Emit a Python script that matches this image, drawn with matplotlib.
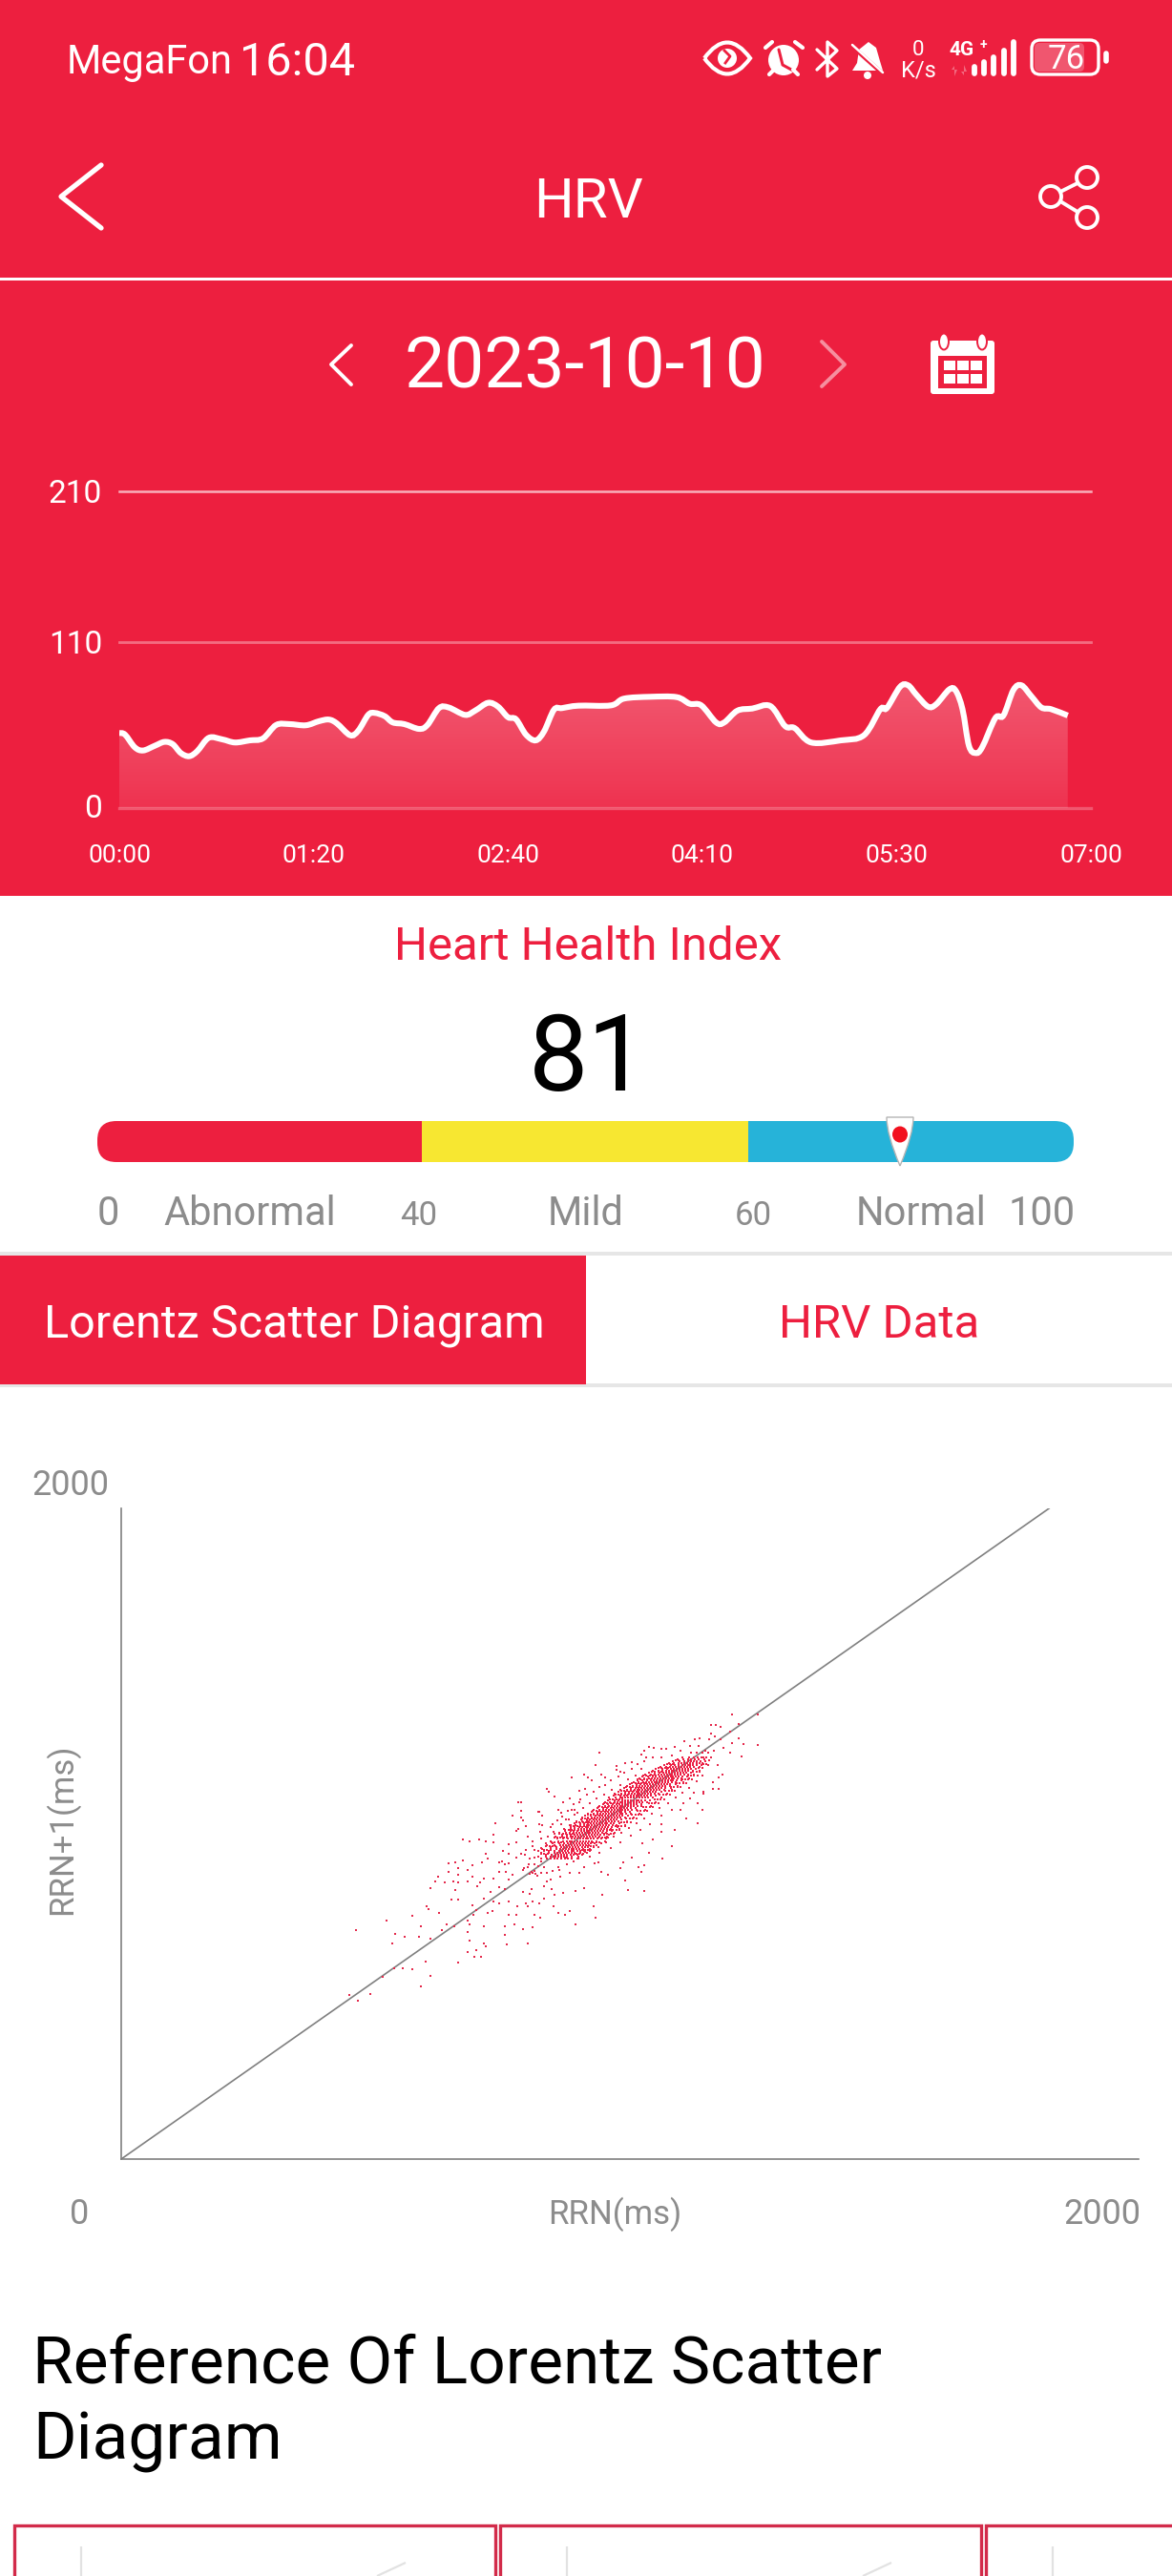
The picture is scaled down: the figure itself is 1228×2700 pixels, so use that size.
import numpy as np
import matplotlib
matplotlib.use("Agg")
import matplotlib.pyplot as plt
from matplotlib.patches import Circle, Ellipse, FancyBboxPatch, PathPatch, Polygon, Rectangle
from matplotlib.path import Path

RED = "#ED1F3F"
GREY = "#8C8C8C"
W, H = 1228, 2700

plt.rcParams["font.family"] = ["Roboto", "DejaVu Sans"]

# HRV curve, minutes from midnight and value
HRV_T = [0, 2.5, 6.7, 10.3, 15.3, 19.5, 23.1, 26.6, 30.2, 33.7, 38.7, 44.4, 50, 56.4, 62.1, 67.8,
         73.5, 80.6, 86.3, 90.6, 94.1, 99.8, 103.3, 107.6, 110.4, 114.7, 118.2, 123.2, 129.6,
         133.2, 138.2, 142.4, 149.5, 153.8, 159.4, 163.7, 168, 171.5, 175.8, 180, 183.6, 187.9,
         191.4, 198.5, 212.5, 218.2, 229.5, 240.9, 246.6, 251.6, 258, 261.5, 267.2, 273.6, 281.4,
         287.8, 292, 299.1, 311.9, 321.9, 329, 331.8, 337.5, 341, 344.6, 349.6, 353.1, 358.8,
         361.6, 364.5, 367.3, 370.2, 373, 378.7, 382.2, 386.5, 390, 394.3, 398.6, 402.8, 410]
HRV_V = [49.8, 48.7, 40.3, 38.2, 41.3, 43.9, 42.4, 36.5, 34.4, 37.8, 46.6, 45.6, 43.5, 44.9, 46.2, 55.1,
         55.7, 54.9, 57.6, 58.7, 56.1, 48.3, 51.3, 61.8, 63.1, 61, 56.8, 55.7, 52.5,
         55.1, 66.3, 66.7, 61.8, 64.6, 69.8, 67.3, 60.3, 58.9, 48.7, 44.9, 50.8, 65.2,
         66.3, 67.9, 68.1, 72.6, 73.8, 73.6, 69.2, 68.1, 56.8, 56.8, 64.6, 66, 67.7,
         54.4, 53, 43.5, 44.9, 48.3, 65.6, 66.3, 80.4, 81.4, 75.1, 67.3, 68.8, 78.7,
         77.8, 65.6, 41.3, 36.5, 40.3, 59.7, 61.4, 78.3, 81.4, 74.1, 66.7, 65.6, 61.4]
HRV_YTICKS = [0, 110, 210]
HRV_XTICKS = [0, 84, 168, 252, 336, 420]
HRV_XLABELS = ["00:00", "01:20", "02:40", "04:10", "05:30", "07:00"]

# index bar
BAR_COLORS = ["#ED1F3F", "#F7E731", "#26B3D9"]
BAR_LABELS = [("0", 113), ("Abnormal", 262), ("Mild", 614), ("Normal", 965), ("100", 1092)]
BAR_SMALL_LABELS = [("40", 439), ("60", 789)]

# Lorentz scatter: isolated points, RR(n) and RR(n+1) in ms
RR_OUTLIERS = [
    (491, 503), (511, 488), (536, 507), (506, 703), (571, 732), (591, 693), (585, 664), (611, 683), (627, 747),
    (642, 683), (646, 715), (666, 678), (588, 586), (606, 587), (564, 561), (627, 583), (656, 608), (666, 563),
    (646, 532), (658, 776), (662, 768), (686, 757), (701, 722), (717, 717), (692, 703), (666, 833), (676, 852),
    (682, 867), (697, 849), (711, 799), (726, 799), (721, 827), (716, 854), (726, 849), (726, 874), (726, 893),
    (706, 908), (706, 884), (721, 913), (736, 918), (747, 888), (757, 903), (757, 869), (747, 854), (736, 983),
    (751, 976), (771, 983), (786, 976), (802, 998), (806, 1033), (802, 974), (786, 937), (778, 913), (791, 923),
    (767, 840), (774, 849), (781, 862), (802, 862), (757, 781), (766, 766), (760, 752), (747, 732), (750, 720),
    (781, 717), (747, 698), (751, 673), (747, 637), (766, 642), (781, 664), (786, 654), (776, 623), (762, 623),
    (726, 603), (781, 802), (796, 820), (815, 835), (802, 791), (791, 757), (800, 761), (815, 786), (826, 830),
    (836, 791), (853, 776), (836, 752), (852, 752), (827, 717), (847, 722), (827, 688), (867, 708), (832, 659),
    (877, 664), (887, 713), (872, 786), (877, 776), (887, 791), (891, 752), (901, 786), (904, 742), (911, 800),
    (932, 776), (942, 757), (956, 752), (966, 761), (980, 722), (1018, 778), (1022, 742), (1037, 813), (1086, 857),
    (1092, 827), (1127, 823), (997, 833), (980, 825), (952, 818), (935, 812), (928, 830), (911, 840), (918, 854),
    (884, 830), (867, 820), (880, 815), (856, 1098), (861, 1098), (861, 1069), (843, 1057), (861, 1050), (867, 1040),
    (872, 1023), (856, 1015), (852, 1008), (877, 991), (852, 974), (836, 967), (887, 976), (887, 962), (872, 949),
    (861, 937), (852, 928), (822, 947), (836, 937), (815, 913), (820, 916), (826, 906), (836, 908), (815, 884),
    (829, 884), (843, 874), (836, 859), (867, 888), (877, 898), (898, 1066), (901, 1066), (908, 1057), (901, 1030),
    (908, 1025), (918, 1138), (922, 1128), (935, 1113), (952, 1098), (942, 1074), (949, 1064), (925, 1020), (932, 1006),
    (904, 1006), (911, 947), (898, 947), (891, 928), (972, 1172), (997, 1182), (1007, 1172), (1014, 1164), (1035, 1182),
    (1042, 1172), (1031, 1248), (1022, 1211), (1000, 1138), (987, 1133), (966, 1108), (987, 1098), (970, 1074),
    (977, 1074), (983, 1064), (959, 1045), (966, 1025), (1167, 923), (1187, 962), (1217, 1047), (1242, 1033),
    (1252, 1072), (1242, 1094), (1193, 1013), (1165, 1030), (1138, 942), (1127, 903), (1114, 898), (1122, 884),
    (1100, 928), (1083, 913), (1076, 893), (1049, 874), (1035, 884), (1021, 908), (997, 898), (1028, 913), (987, 879),
    (966, 879), (946, 869), (925, 859), (911, 898), (942, 898), (959, 928), (980, 937), (1145, 981), (1124, 971),
    (1165, 1006), (1206, 1074), (1227, 1108), (1254, 1128), (1276, 1138), (1287, 1138), (1297, 1183), (1287, 1172),
    (1275, 1157), (1254, 1123), (1337, 1238), (1341, 1277), (1372, 1272), (1332, 1292), (1316, 1279), (1313, 1248),
    (1332, 1338), (1313, 1313), (1317, 1367), (1372, 1367), (1292, 1328), (1282, 1333), (1271, 1333), (1271, 1309),
    (1280, 1299), (1247, 1294), (1237, 1289), (1213, 1284), (1193, 1267), (1175, 1262), (1165, 1262), (1148, 1265),
    (1138, 1267), (1127, 1255), (1122, 1242), (1100, 1221), (1086, 1216), (1068, 1209), (1068, 1196), (1076, 1191),
    (1131, 1235), (1145, 1235), (1165, 1235), (1186, 1240), (1206, 1255), (1227, 1270), (1244, 1270), (1258, 1255),
    (1268, 1289), (1292, 1289), (1299, 1265), (1278, 1255), (1285, 1211), (1265, 1211), (1247, 1216), (1254, 1235),
    (1271, 1235), (884, 884), (887, 880), (890, 886), (893, 878), (880, 876), (896, 870),
    (940, 1040), (950, 1052), (962, 1070), (975, 1090), (990, 1105), (1003, 1120), (1018, 1130), (1030, 1145),
    (1043, 1150), (1055, 1165), (1072, 1175), (1085, 1188), (1100, 1200), (1112, 1215), (1128, 1222), (930, 1030),
    (948, 1030), (965, 1045), (978, 1060), (995, 1078), (1010, 1095), (1025, 1108), (1040, 1120), (1058, 1135),
    (1075, 1150), (1092, 1168), (1108, 1180), (1122, 1198), (1000, 945), (1012, 950), (1028, 960), (1045, 975),
    (1062, 990), (1078, 1003), (1095, 1018), (1110, 1032), (1128, 1048), (1143, 1062), (1160, 1080), (1178, 1095),
    (1195, 1110), (1210, 1125), (1225, 1140), (1240, 1160), (1252, 1178), (1010, 930), (1030, 940), (1055, 955),
    (1075, 975), (1098, 995), (1120, 1012), (1140, 1030), (1165, 1055), (1188, 1072), (1212, 1095), (1235, 1125),
    (900, 900), (905, 915), (890, 905), (878, 905), (868, 895), (905, 880), (918, 880), (930, 885), (945, 890),
    (960, 905), (975, 915), (985, 925), (870, 935), (880, 925), (890, 950), (905, 955), (915, 970), (905, 985),
    (920, 990), (935, 1000),
]

# dense part of the cloud, one x list per RR(n+1) row
RR_CORE_Y = [924, 930, 936, 942, 948, 954, 960, 966, 972, 978, 984, 990, 996, 1002, 1008, 1014, 1020, 1026,
             1032, 1038, 1044, 1050, 1056, 1062, 1068, 1074, 1080, 1086, 1092, 1098, 1104, 1110, 1116, 1122,
             1128, 1134, 1140, 1146, 1152, 1158, 1164, 1170, 1176, 1182, 1188, 1194, 1200, 1206, 1212, 1218,
             1224, 1230, 1236, 1248]
RR_CORE_X = [
    [905, 918, 926, 935, 941, 948, 956, 963, 972, 984],
    [898, 915, 925, 931, 937, 943, 949, 955, 961, 970, 985],
    [915, 928, 936, 942, 949, 955, 961, 968, 975, 983, 994],
    [905, 922, 933, 940, 946, 952, 958, 964, 970, 977, 990, 1003],
    [922, 935, 944, 951, 957, 963, 970, 976, 983, 990, 998, 1010],
    [908, 926, 938, 946, 952, 958, 964, 970, 976, 982, 988, 996, 1010],
    [925, 938, 948, 955, 961, 967, 973, 980, 986, 993, 999, 1007, 1018],
    [918, 934, 946, 953, 959, 965, 971, 977, 983, 989, 995, 1001, 1008, 1025],
    [930, 945, 955, 962, 968, 975, 981, 987, 993, 999, 1005, 1012, 1020, 1034],
    [925, 942, 953, 960, 966, 972, 978, 984, 990, 996, 1002, 1008, 1015, 1024, 1044],
    [940, 952, 962, 970, 977, 983, 989, 995, 1001, 1007, 1013, 1019, 1026, 1034, 1046],
    [936, 950, 960, 968, 974, 980, 986, 992, 998, 1004, 1010, 1016, 1023, 1030, 1048],
    [950, 960, 969, 977, 984, 990, 996, 1002, 1008, 1014, 1020, 1026, 1033, 1041, 1052],
    [944, 958, 967, 975, 981, 987, 993, 999, 1005, 1011, 1017, 1023, 1029, 1037, 1046, 1064],
    [956, 968, 976, 984, 991, 997, 1003, 1009, 1015, 1021, 1027, 1033, 1039, 1047, 1058],
    [955, 968, 978, 985, 992, 998, 1004, 1010, 1016, 1022, 1028, 1034, 1040, 1047, 1056, 1074],
    [968, 978, 987, 994, 1001, 1007, 1013, 1019, 1025, 1031, 1037, 1043, 1050, 1058, 1070],
    [968, 980, 990, 997, 1003, 1009, 1015, 1021, 1027, 1033, 1039, 1045, 1051, 1059, 1068, 1086],
    [978, 990, 998, 1006, 1012, 1018, 1024, 1030, 1036, 1042, 1048, 1055, 1062, 1074],
    [982, 994, 1003, 1009, 1015, 1021, 1027, 1033, 1039, 1045, 1051, 1057, 1064, 1072, 1090],
    [992, 1003, 1011, 1018, 1025, 1031, 1037, 1043, 1049, 1055, 1061, 1068, 1078],
    [994, 1006, 1015, 1021, 1027, 1033, 1039, 1045, 1051, 1057, 1063, 1069, 1076, 1086, 1104],
    [1000, 1012, 1022, 1030, 1037, 1043, 1049, 1055, 1061, 1067, 1073, 1081, 1092],
    [1005, 1018, 1027, 1033, 1039, 1045, 1051, 1057, 1063, 1069, 1075, 1081, 1088, 1098, 1118],
    [1014, 1026, 1035, 1042, 1049, 1055, 1061, 1067, 1073, 1079, 1086, 1096],
    [1018, 1030, 1039, 1045, 1051, 1057, 1063, 1069, 1075, 1081, 1087, 1093, 1100, 1110, 1130],
    [1026, 1038, 1047, 1055, 1061, 1067, 1073, 1079, 1085, 1091, 1098, 1108],
    [1030, 1042, 1051, 1057, 1063, 1069, 1075, 1081, 1087, 1093, 1099, 1105, 1112, 1122, 1142],
    [1038, 1050, 1060, 1068, 1074, 1080, 1086, 1092, 1098, 1104, 1111, 1122],
    [1042, 1054, 1063, 1069, 1075, 1081, 1087, 1093, 1099, 1105, 1111, 1117, 1124, 1134, 1152],
    [1050, 1063, 1072, 1080, 1086, 1092, 1098, 1104, 1110, 1116, 1122, 1130, 1140],
    [1052, 1066, 1075, 1081, 1087, 1093, 1099, 1105, 1111, 1117, 1123, 1129, 1136, 1146, 1164],
    [1062, 1075, 1084, 1091, 1098, 1104, 1110, 1116, 1122, 1128, 1134, 1141, 1152],
    [1064, 1078, 1087, 1094, 1100, 1106, 1112, 1118, 1124, 1130, 1136, 1142, 1149, 1158, 1176],
    [1072, 1086, 1095, 1103, 1110, 1116, 1122, 1128, 1134, 1140, 1146, 1153, 1164],
    [1076, 1090, 1099, 1106, 1112, 1118, 1124, 1130, 1136, 1142, 1148, 1154, 1161, 1170, 1188],
    [1084, 1098, 1108, 1116, 1122, 1128, 1134, 1140, 1146, 1152, 1158, 1165, 1172, 1184],
    [1090, 1102, 1111, 1118, 1124, 1130, 1136, 1142, 1148, 1154, 1160, 1166, 1173, 1182, 1200],
    [1096, 1110, 1120, 1128, 1134, 1140, 1146, 1152, 1158, 1164, 1170, 1176, 1183, 1195],
    [1104, 1116, 1125, 1131, 1137, 1143, 1149, 1155, 1161, 1167, 1173, 1179, 1186, 1195, 1212],
    [1112, 1124, 1133, 1141, 1148, 1154, 1160, 1166, 1172, 1178, 1184, 1190, 1197, 1208],
    [1118, 1128, 1137, 1144, 1150, 1156, 1162, 1168, 1174, 1180, 1186, 1192, 1199, 1208, 1224],
    [1124, 1136, 1146, 1153, 1160, 1166, 1172, 1178, 1184, 1190, 1196, 1202, 1210, 1220],
    [1130, 1142, 1151, 1158, 1164, 1170, 1176, 1182, 1188, 1194, 1200, 1206, 1213, 1222, 1234],
    [1138, 1150, 1160, 1168, 1175, 1181, 1187, 1193, 1199, 1205, 1211, 1218, 1228],
    [1146, 1158, 1167, 1174, 1180, 1186, 1192, 1198, 1204, 1210, 1216, 1223, 1232, 1246],
    [1152, 1166, 1176, 1184, 1191, 1197, 1203, 1209, 1215, 1221, 1228, 1238],
    [1162, 1174, 1183, 1190, 1196, 1202, 1208, 1214, 1220, 1226, 1234, 1246],
    [1170, 1184, 1194, 1202, 1209, 1215, 1221, 1227, 1233, 1240, 1250],
    [1180, 1192, 1201, 1208, 1214, 1220, 1226, 1232, 1240, 1252],
    [1190, 1204, 1214, 1222, 1229, 1235, 1241, 1248, 1258],
    [1200, 1212, 1221, 1228, 1236, 1244, 1256],
    [1210, 1224, 1234, 1242, 1250, 1262],
    [1228, 1240, 1252, 1266],
]

# both flanks of the dense band
RR_FLANK_Y = [939, 951, 963, 975, 987, 999, 1011, 1023, 1035, 1047, 1059, 1071, 1083, 1095, 1107, 1119, 1131,
              1143, 1155, 1167, 1179, 1191, 1203, 1215, 1227]
RR_FLANK_X = [
    [905, 912, 919, 981, 988, 995],
    [911, 918, 925, 993, 1000, 1007],
    [916, 923, 930, 937, 1005, 1012, 1019],
    [928, 935, 942, 949, 1017, 1024, 1031],
    [933, 940, 947, 954, 961, 1029, 1036, 1043, 1050],
    [945, 952, 959, 966, 973, 1041, 1048, 1055, 1062],
    [957, 964, 971, 978, 985, 1053, 1060, 1067, 1074],
    [969, 976, 983, 990, 997, 1065, 1072, 1079, 1086],
    [981, 988, 995, 1002, 1009, 1077, 1084, 1091, 1098],
    [993, 1000, 1007, 1014, 1021, 1089, 1096, 1103, 1110],
    [1005, 1012, 1019, 1026, 1033, 1101, 1108, 1115, 1122],
    [1017, 1024, 1031, 1038, 1045, 1113, 1120, 1127, 1134],
    [1029, 1036, 1043, 1050, 1057, 1125, 1132, 1139, 1146],
    [1041, 1048, 1055, 1062, 1069, 1137, 1144, 1151, 1158],
    [1053, 1060, 1067, 1074, 1081, 1149, 1156, 1163, 1170],
    [1065, 1072, 1079, 1086, 1093, 1161, 1168, 1175, 1182],
    [1077, 1084, 1091, 1098, 1105, 1173, 1180, 1187, 1194],
    [1089, 1096, 1103, 1110, 1117, 1185, 1192, 1199, 1206],
    [1101, 1108, 1115, 1122, 1129, 1197, 1204, 1211, 1218],
    [1113, 1120, 1127, 1134, 1141, 1209, 1216, 1223, 1230],
    [1125, 1132, 1139, 1146, 1153, 1221, 1228, 1235, 1242],
    [1144, 1151, 1158, 1165, 1233, 1240, 1247],
    [1158, 1165, 1172, 1179, 1245, 1252],
    [1176, 1183, 1190, 1255, 1262],
    [1195, 1202, 1267],
]


def inset(x0, y0, x1, y1):
    # axes from pixel box, y measured from the top of the screen
    a = fig.add_axes([x0 / W, 1 - y1 / H, (x1 - x0) / W, (y1 - y0) / H])
    a.patch.set_alpha(0)
    return a


def txt(x, y, s, size, color="white", **kw):
    kw.setdefault("ha", "center")
    kw.setdefault("va", "center")
    ui.text(x, y, s, fontsize=size, color=color, **kw)


def line(xs, ys, lw=3.0, color="white", alpha=1.0, cap="round"):
    ui.plot(xs, ys, color=color, lw=lw, alpha=alpha, solid_capstyle=cap, solid_joinstyle="round")


def smooth_path(t, v):
    # catmull-rom through the read points, same look as the app's curved line
    t, v = np.asarray(t, float), np.asarray(v, float)
    verts, codes = [(t[0], v[0])], [Path.MOVETO]
    for i in range(len(t) - 1):
        a = max(i - 1, 0)
        b = min(i + 2, len(t) - 1)
        c1 = (t[i] + (t[i + 1] - t[a]) / 6, v[i] + (v[i + 1] - v[a]) / 6)
        c2 = (t[i + 1] - (t[b] - t[i]) / 6, v[i + 1] - (v[b] - v[i]) / 6)
        verts += [c1, c2, (t[i + 1], v[i + 1])]
        codes += [Path.CURVE4] * 3
    return verts, codes


fig = plt.figure(figsize=(W / 100, H / 100), dpi=100, facecolor="white")
ui = fig.add_axes([0, 0, 1, 1])
ui.set_xlim(0, W)
ui.set_ylim(H, 0)
ui.axis("off")

# header block
ui.add_patch(Rectangle((0, 0), W, 939, color=RED, lw=0))
ui.add_patch(Rectangle((0, 291), W, 3, color="white", lw=0))

txt(70, 66, "MegaFon", 30, ha="left")
txt(251, 66, "16:04", 35, ha="left")

# status icons
Q = Path.CURVE3
ui.add_patch(PathPatch(Path([(738, 61), (762, 28), (786, 61), (762, 94), (738, 61)], [Path.MOVETO, Q, Q, Q, Q]),
                       fc="none", ec="white", lw=3))
ui.add_patch(Circle((762, 61), 10, fc="white", lw=0))
ui.plot([759, 765, 760], [53, 59, 66], color=RED, lw=2)
ui.add_patch(Circle((821, 63), 16, fc="white", lw=0))
line([816, 820, 831], [52, 68, 74], lw=2.2, color=RED)
line([802, 809], [50, 44], lw=3)
line([841, 833], [50, 44], lw=3)
line([806, 811], [78, 73], lw=3)
line([836, 831], [78, 73], lw=3)
line([856, 877, 867, 867, 877, 856], [52, 72, 80, 44, 53, 73], lw=2.4)
ui.add_patch(Polygon([[910, 44], [918, 50], [922, 64], [925, 74], [893, 74], [898, 66], [900, 52]], color="white", lw=0))
line([890, 928], [46, 80], lw=3.2, color=RED, cap="butt")
line([893, 925], [47, 76], lw=1.8)
ui.add_patch(Circle((909, 79), 4, color="white", lw=0))
txt(962, 53, "0", 16)
txt(962, 74, "K/s", 17)
txt(1008, 53, "4G", 15, fontweight="bold")
txt(1030, 47, "+", 10, fontweight="bold")
ui.add_patch(Polygon([[1000, 80], [1000, 69], [997, 73], [1003, 73]], color="#F26A80", lw=0))
ui.add_patch(Polygon([[1010, 68], [1010, 79], [1007, 75], [1013, 75]], color="#F26A80", lw=0))
for bx, top in zip([1021, 1031, 1041, 1052, 1062], [70, 65, 60, 53, 44]):
    line([bx, bx], [top, 77], lw=4.2)
ui.add_patch(FancyBboxPatch((1081, 42), 70, 36, boxstyle="round,pad=0,rounding_size=9", fc="none", ec="white", lw=2.4))
ui.add_patch(FancyBboxPatch((1084, 45), 52, 30, boxstyle="round,pad=0,rounding_size=5", fc="#F0566F", ec="none", lw=0))
txt(1117, 62, "76", 25)
line([1159, 1159], [56, 64], lw=4)

# toolbar
line([106, 64, 106], [173, 206, 239], lw=3.8)
txt(616, 212, "HRV", 42)
for cx, cy in [(1139, 186), (1101, 206), (1139, 228)]:
    ui.add_patch(Circle((cx, cy), 11, fc="none", ec="white", lw=2.8))
line([1129, 1111], [192, 201], lw=2.8)
line([1129, 1111], [222, 211], lw=2.8)

# date row
line([368, 347, 368], [362, 382, 403], lw=2.8)
txt(613, 386, "2023-10-10", 54)
line([861, 885, 861], [358, 382, 405], alpha=0.5, lw=2.8)
ui.add_patch(FancyBboxPatch((975, 357), 67, 56, boxstyle="round,pad=0,rounding_size=3", color="white", lw=0))
ui.add_patch(Rectangle((983, 373), 51, 34, color=RED, lw=0))
for gx in [989, 1003, 1017]:
    for gy in [378, 392]:
        ui.add_patch(Rectangle((gx, gy), 12, 10, color="white", lw=0))
for gx in [989, 1029]:
    ui.add_patch(Ellipse((gx, 358), 10, 17, fc="white", ec=RED, lw=1.4))

# HRV chart
hrv = inset(125, 515, 1143, 847)
hrv.set_xlim(0, 420)
hrv.set_ylim(0, 210)
hrv.axis("off")
for yv, al, lw in zip(HRV_YTICKS, [0.25, 0.35, 0.65], [2.4, 2.0, 1.8]):
    hrv.axhline(yv, color="white", alpha=al, lw=lw, clip_on=False)
verts, codes = smooth_path(HRV_T, HRV_V)
area = Path(verts + [(HRV_T[-1], 0), (HRV_T[0], 0), (HRV_T[0], 0)],
            codes + [Path.LINETO, Path.LINETO, Path.CLOSEPOLY])
grad = np.ones((256, 1, 4))
grad[:, 0, 3] = np.linspace(0.26, 0.09, 256)
im = hrv.imshow(grad, extent=(0, 420, 0, 85), origin="upper", aspect="auto", zorder=2)
im.set_clip_path(PathPatch(area, transform=hrv.transData))
hrv.set_xlim(0, 420)
hrv.set_ylim(0, 210)
hrv.add_patch(PathPatch(Path(verts, codes), fc="none", ec="white", lw=4.4, capstyle="butt", zorder=3))

for yv, ypx in zip(HRV_YTICKS, [848, 676, 518]):
    txt(107, ypx, str(yv), 24, ha="right")
for xv, lab in zip(HRV_XTICKS, HRV_XLABELS):
    txt(125 + xv * 1018 / 420, 897, lab, 19)

# index block
txt(616, 993, "Heart Health Index", 35.4, color=RED)
txt(616, 1113, "81", 80, color="black")
clip = FancyBboxPatch((102, 1175), 1023, 43, boxstyle="round,pad=0,rounding_size=20", fc="none", ec="none")
ui.add_patch(clip)
for (bx0, bx1), col in zip([(102, 442), (442, 784), (784, 1125)], BAR_COLORS):
    r = ui.add_patch(Rectangle((bx0, 1175), bx1 - bx0, 43, color=col, lw=0))
    r.set_clip_path(clip)
ui.add_patch(PathPatch(Path([(943, 1222), (929, 1189), (929, 1171), (943, 1171), (957, 1171), (957, 1189), (943, 1222)],
                            [Path.MOVETO, Q, Q, Q, Q, Q, Q]),
                       fc="white", ec="#B5B5B5", lw=1))
ui.add_patch(Ellipse((943, 1189), 16, 17, color="#F2101E", lw=0))
for lab, x in BAR_LABELS:
    txt(x, 1273, lab, 30, color=GREY)
for lab, x in BAR_SMALL_LABELS:
    txt(x, 1274, lab, 25, color=GREY)

# tabs
ui.add_patch(Rectangle((0, 1312), W, 4, color="#E6E6E6", lw=0))
ui.add_patch(Rectangle((0, 1450), W, 4, color="#E6E6E6", lw=0))
ui.add_patch(Rectangle((0, 1316), 614, 135, color=RED, lw=0))
txt(308, 1389, "Lorentz Scatter Diagram", 35)
txt(921, 1389, "HRV Data", 35.4, color=RED)

# Lorentz chart
lor = inset(127, 1581, 1193, 2263)
lor.set_xlim(0, 2193)
lor.set_ylim(0, 2000)
lor.set_xticks([])
lor.set_yticks([])
for side in ["top", "right"]:
    lor.spines[side].set_visible(False)
for side in ["left", "bottom"]:
    lor.spines[side].set_color("#808080")
    lor.spines[side].set_linewidth(1.2)
lor.plot([0, 2000], [0, 2000], color="#808080", lw=1.2, zorder=1)
out = np.array(RR_OUTLIERS)
lor.scatter(out[:, 0], out[:, 1], s=2.6, marker="s", color="#E42A4C", lw=0, zorder=2)
for rows_y, rows_x in [(RR_CORE_Y, RR_CORE_X), (RR_FLANK_Y, RR_FLANK_X)]:
    xs = np.concatenate(rows_x)
    ys = np.repeat(rows_y, [len(r) for r in rows_x])
    lor.scatter(xs, ys, s=3.4, marker="s", color="#EC2045", lw=0, zorder=2)

txt(74, 1557, "2000", 26, color=GREY)
txt(65, 1917, "RRN+1(ms)", 25, color=GREY, rotation=90)
txt(83, 2321, "0", 26, color=GREY)
txt(644, 2321, "RRN(ms)", 25, color=GREY)
txt(1155, 2321, "2000", 26, color=GREY)

# reference section, cards run off the bottom of the screen
txt(34, 2479, "Reference Of Lorentz Scatter", 50, color="black", ha="left")
txt(34, 2559, "Diagram", 50, color="black", ha="left")
for cx0, cx1 in [(15, 519), (524, 1028), (1033, 1290)]:
    ui.add_patch(Rectangle((cx0, 2647), cx1 - cx0, 100, fc="white", ec="#D22B4A", lw=2.4))
    line([cx0 + 70, cx0 + 70], [2669, 2700], lw=1.6, color="#E2E2E2", cap="butt")
    line([cx0 + 410, cx0 + 380], [2686, 2700], lw=1.6, color="#E2E2E2", cap="butt")
ui.set_xlim(0, W)
ui.set_ylim(H, 0)

fig.savefig("out.png", dpi=100)
